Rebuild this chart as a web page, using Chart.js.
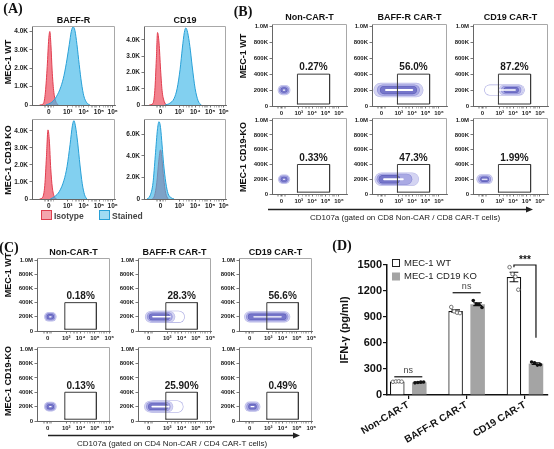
<!DOCTYPE html>
<html><head><meta charset="utf-8">
<script src="https://cdn.jsdelivr.net/npm/chart.js@4.4.1/dist/chart.umd.min.js"></script>
<style>
html,body{margin:0;padding:0;background:#fff;}
#wrap{position:relative;width:554px;height:449px;overflow:hidden;background:#fff;}
#wrap canvas{position:absolute;left:0;top:0;}
.t{position:absolute;white-space:nowrap;font-family:"Liberation Sans",Arial,sans-serif;color:#111;line-height:1;z-index:5;}
svg{position:absolute;left:0;top:0;z-index:4;}
</style></head><body><div id="wrap"></div>
<script>
// ---------------- DATA ----------------
// Panel A histograms (x in display units: 0 -> "0", 1.25 -> 10^3, 2.3 -> 10^4, 3.3 -> 10^5, 4.2 -> 10^6)
const histXTicks = [0, 1.25, 2.3, 3.3, 4.2];
const histXLabels = ['0', '10³', '10⁴', '10⁵', '10⁶'];
const histXMinor = [-0.3, -0.2, -0.1, 0.1, 0.2, 0.3, 1.55, 1.73, 1.85, 1.95, 2.05, 2.15, 2.6, 2.78, 2.9, 3.0, 3.08, 3.15, 3.6, 3.75, 3.85, 3.95, 4.05];
const histYTicks = [0, 1000, 2000, 3000, 4000];
const histYLabels = ['0', '1.0K', '2.0K', '3.0K', '4.0K'];
const histYTicksKo = [0, 2000, 4000, 6000];
const histYLabelsKo = ['0', '2.0K', '4.0K', '6.0K'];
const markersA = ['BAFF-R', 'CD19'];
const cellLinesA = ['MEC-1 WT', 'MEC-1 CD19 KO'];
const legendA = ['Isotype', 'Stained'];

const baffWtIsoX = [-0.6, -0.35, -0.22, -0.1, 0, 0.07, 0.14, 0.22, 0.32, 0.45, 0.62];
const baffWtIsoY = [0, 80, 700, 2100, 3600, 4000, 3300, 1900, 800, 220, 0];
const baffWtStainX = [-0.2, 0.2, 0.5, 0.8, 1.0, 1.2, 1.35, 1.48, 1.6, 1.72, 1.85, 2.0, 2.15, 2.3, 2.5, 2.7];
const baffWtStainY = [0, 150, 450, 1000, 1600, 2500, 3300, 4000, 4250, 4050, 3300, 2200, 1200, 500, 120, 0];
const cd19WtIsoX = [-0.75, -0.5, -0.38, -0.28, -0.2, -0.1, 0, 0.1, 0.25, 0.42];
const cd19WtIsoY = [0, 100, 900, 2800, 4450, 3800, 2200, 900, 200, 0];
const cd19WtStainX = [0.3, 0.6, 0.9, 1.1, 1.3, 1.45, 1.58, 1.68, 1.8, 1.95, 2.1, 2.3, 2.5, 2.7];
const cd19WtStainY = [0, 100, 400, 1000, 2200, 3500, 4450, 4730, 4450, 3600, 2400, 1000, 250, 0];
const baffKoIsoX = [-0.6, -0.4, -0.26, -0.15, -0.05, 0.04, 0.13, 0.23, 0.36, 0.52];
const baffKoIsoY = [0, 100, 800, 2500, 4060, 3400, 1800, 700, 150, 0];
const baffKoStainX = [0.1, 0.4, 0.7, 1.0, 1.2, 1.4, 1.55, 1.65, 1.75, 1.9, 2.05, 2.2, 2.35, 2.5];
const baffKoStainY = [0, 150, 450, 1100, 1900, 3200, 4300, 4600, 4300, 3300, 2000, 900, 250, 0];
const cd19KoIsoX = [-0.55, -0.4, -0.25, -0.12, 0, 0.1, 0.2, 0.35, 0.5];
const cd19KoIsoY = [0, 300, 1500, 3500, 4550, 3600, 2000, 500, 0];
const cd19KoStainX = [-0.9, -0.7, -0.5, -0.35, -0.2, -0.1, 0, 0.1, 0.2, 0.35, 0.5, 0.7, 0.9];
const cd19KoStainY = [0, 300, 1500, 4000, 6500, 7150, 6600, 5000, 3300, 1500, 500, 120, 0];

// Panels B and C: flow plots (x display units: 0, 10^3..10^6 ; y = cell counts)
const flowXTicks = [0, 1.3, 2.3, 3.3, 4.3];
const flowXLabels = ['0', '10³', '10⁴', '10⁵', '10⁶'];
const flowXMinor = [-0.3, -0.2, -0.1, 0.1, 0.2, 0.3, 1.6, 1.78, 1.9, 2.0, 2.1, 2.6, 2.78, 2.9, 3.0, 3.1, 3.6, 3.78, 3.9, 4.0, 4.1];
const flowYTicks = [0, 200000, 400000, 600000, 800000, 1000000];
const flowYLabels = ['0', '200K', '400K', '600K', '800K', '1.0M'];
const conditions = ['Non-CAR-T', 'BAFF-R CAR-T', 'CD19 CAR-T'];
const cellLinesBC = ['MEC-1 WT', 'MEC-1 CD19-KO'];
const cd8WtPct = ['0.27%', '56.0%', '87.2%'];
const cd8KoPct = ['0.33%', '47.3%', '1.99%'];
const cd4WtPct = ['0.18%', '28.3%', '56.6%'];
const cd4KoPct = ['0.13%', '25.90%', '0.49%'];
const gateXB = [1.2, 3.6];
const gateXC = [1.2, 3.4];
const gateY = [25000, 400000];
const axisTitleB = 'CD107a (gated on CD8 Non-CAR / CD8 CAR-T cells)';
const axisTitleC = 'CD107a (gated on CD4 Non-CAR / CD4 CAR-T cells)';
// contour bands: [xStart, xEnd, yCentre, halfHeight, densityLevel]
const cd8WtNonBands  = [[0.1,0.3,200e3,56e3,0],[0.12,0.28,200e3,42e3,1],[0.14,0.26,200e3,27e3,2],[0.15,0.25,200e3,7e3,3]];
const cd8WtBaffBands = [[-0.05,2.6,200e3,84e3,0],[0.1,2.45,200e3,64e3,1],[0.2,2.35,200e3,44e3,2],[0.35,2.3,200e3,13e3,3]];
const cd8WtCd19Bands = [[0.55,2.75,200e3,62e3,4],[1.6,2.7,200e3,58e3,0],[1.7,2.6,200e3,44e3,1],[1.8,2.5,200e3,30e3,2],[1.1,2.45,200e3,9e3,3]];
const cd8KoNonBands  = [[0.1,0.3,200e3,56e3,0],[0.12,0.28,200e3,42e3,1],[0.14,0.26,200e3,27e3,2],[0.15,0.25,200e3,7e3,3]];
const cd8KoBaffBands = [[0.0,2.3,200e3,84e3,0],[0.05,1.9,200e3,66e3,1],[0.1,1.1,200e3,48e3,2],[0.2,1.6,200e3,13e3,3]];
const cd8KoCd19Bands = [[-0.08,0.42,200e3,58e3,0],[-0.02,0.36,200e3,43e3,1],[0.04,0.3,200e3,28e3,2],[0.0,0.34,200e3,8e3,3]];
const cd4WtNonBands  = [[0.08,0.3,200e3,58e3,0],[0.1,0.28,200e3,44e3,1],[0.12,0.26,200e3,30e3,2],[0.14,0.24,200e3,8e3,3]];
const cd4WtBaffBands = [[0.3,2.1,200e3,78e3,4],[0.15,1.45,200e3,75e3,0],[0.2,1.35,200e3,57e3,1],[0.25,1.25,200e3,40e3,2],[0.3,1.5,200e3,11e3,3]];
const cd4WtCd19Bands = [[0.0,2.45,200e3,70e3,0],[0.05,2.4,200e3,53e3,1],[0.1,2.35,200e3,37e3,2],[0.3,2.2,200e3,9e3,3]];
const cd4KoNonBands  = [[0.08,0.3,200e3,58e3,0],[0.1,0.28,200e3,44e3,1],[0.12,0.26,200e3,30e3,2],[0.14,0.24,200e3,8e3,3]];
const cd4KoBaffBands = [[0.3,2.0,200e3,78e3,4],[0.1,1.3,200e3,75e3,0],[0.15,1.2,200e3,57e3,1],[0.2,1.1,200e3,40e3,2],[0.25,1.4,200e3,11e3,3]];
const cd4KoCd19Bands = [[0.0,0.4,200e3,62e3,0],[0.05,0.35,200e3,47e3,1],[0.1,0.3,200e3,31e3,2],[0.1,0.3,200e3,8e3,3]];

// Panel D: IFN-gamma bar chart
const dCats = ['Non-CAR-T', 'BAFF-R CAR-T', 'CD19 CAR-T'];
const dSeries = ['MEC-1 WT', 'MEC-1 CD19 KO'];
const wtMean = [155, 968, 1362];
const wtErr = [4, 14, 55];
const koMean = [146, 1048, 362];
const koErr = [3, 17, 10];
const wtReps = [[152, 156, 158, 154], [1015, 965, 950, 945], [1475, 1395, 1365, 1215]];
const koReps = [[140, 145, 148, 150], [1090, 1050, 1045, 1010], [380, 372, 345, 350]];
const dYTicks = [0, 300, 600, 900, 1200, 1500];
const dYTitle = 'IFN-γ (pg/ml)';
const sigLabels = ['ns', 'ns', '***'];
const sigLevel = [210, 1180, 1500];
const sigLegEnd = [[210, 210], [1180, 1180], [1475, 660]];

// ---------------- HELPERS ----------------
const W = 554, H = 449;
const FONT = '"Liberation Sans", Arial, sans-serif';
Chart.defaults.font.family = FONT;
const wrap = document.getElementById('wrap');
function newCanvas() { const c = document.createElement('canvas'); c.width = W; c.height = H; wrap.appendChild(c); return c; }
function pad(area, yW, xH) { return {left: area[0] - yW, top: area[1], right: W - area[2], bottom: H - area[3] - xH}; }
function zip(xs, ys) { return xs.map((x, i) => ({x, y: ys[i]})); }
function addText(txt, cx, cy, font, o = {}) {
  const d = document.createElement('div');
  d.className = 't'; d.textContent = txt; d.style.font = font;
  if (o.color) d.style.color = o.color;
  d.style.left = cx + 'px'; d.style.top = cy + 'px';
  const tx = o.align === 'left' ? '0' : '-50%';
  d.style.transform = 'translate(' + tx + ',-50%)' + (o.rot ? ' rotate(' + o.rot + 'deg)' : '');
  wrap.appendChild(d);
  return d;
}
const common = {responsive: false, maintainAspectRatio: false, devicePixelRatio: 1, animation: false, events: []};

const boxPlugin = {
  id: 'box',
  afterDatasetsDraw(chart, args, o) {
    const a = chart.chartArea, c = chart.ctx;
    c.save(); c.strokeStyle = o.color || '#a0a0a0'; c.lineWidth = 1;
    c.beginPath();
    c.moveTo(a.left, Math.round(a.top) + 0.5); c.lineTo(Math.round(a.right) - 0.5, Math.round(a.top) + 0.5);
    c.lineTo(Math.round(a.right) - 0.5, a.bottom);
    c.stroke(); c.restore();
  }
};
const gateLabelPlugin = {
  id: 'gateLabel',
  afterDatasetsDraw(chart, args, o) {
    if (!o.text) return;
    const {ctx, scales: {x, y}} = chart;
    ctx.save(); ctx.font = 'bold 10px ' + FONT; ctx.fillStyle = '#1a1a1a';
    ctx.textAlign = 'center'; ctx.textBaseline = 'bottom';
    ctx.fillText(o.text, x.getPixelForValue((o.gx[0] + o.gx[1]) / 2), y.getPixelForValue(o.gy[1]) - 1.5);
    ctx.restore();
  }
};

function axisX(min, max, vals, labels, minor, xH, fs) {
  return {type: 'linear', min, max, offset: false,
    afterBuildTicks: s => { s.ticks = vals.map(v => ({value: v})).concat(minor.map(v => ({value: v, minor: true}))); },
    afterFit: s => { s.height = xH; },
    ticks: {callback: (v, i) => (i < labels.length ? labels[i] : ''), autoSkip: false, maxRotation: 0, minRotation: 0, padding: 1, font: {size: fs, weight: 'bold'}, color: '#222'},
    grid: {display: true, offset: false, drawOnChartArea: false, drawTicks: true, tickLength: 2.5,
      color: '#555', lineWidth: 0.8,
      tickColor: c => (c.tick && c.tick.minor ? '#8a8a8a' : '#555'),
      tickWidth: c => (c.tick && c.tick.minor ? 0.6 : 0.8)},
    border: {display: true, color: '#666', width: 1}};
}
function axisY(max, vals, labels, yW, fs) {
  return {type: 'linear', min: 0, max,
    afterBuildTicks: s => { s.ticks = vals.map(v => ({value: v})); },
    afterFit: s => { s.width = yW; },
    ticks: {callback: (v, i) => labels[i], autoSkip: false, padding: 1.5, font: {size: fs, weight: 'bold'}, color: '#222'},
    grid: {display: true, drawOnChartArea: false, drawTicks: true, tickLength: 2.5, color: '#555', lineWidth: 0.8},
    border: {display: true, color: '#666', width: 1}};
}

// ---------------- PANEL A ----------------
function histChart(area, isoX, isoY, stX, stY, yMax, yT, yL) {
  new Chart(newCanvas(), {
    type: 'line',
    data: {datasets: [
      {data: zip(stX, stY), borderColor: 'rgb(40,160,215)', backgroundColor: 'rgba(60,182,232,0.64)', fill: 'origin', borderWidth: 1, order: 1},
      {data: zip(isoX, isoY), borderColor: 'rgb(225,60,78)', backgroundColor: 'rgba(238,88,104,0.75)', fill: 'origin', borderWidth: 1, order: 2}
    ]},
    options: Object.assign({}, common, {
      layout: {autoPadding: false, padding: pad(area, 24, 12)},
      elements: {point: {radius: 0}, line: {cubicInterpolationMode: 'monotone'}},
      scales: {x: axisX(-1.1, 4.35, histXTicks, histXLabels, histXMinor, 12, 6.5), y: axisY(yMax, yT, yL, 24, 6.5)},
      plugins: {legend: {display: false}, tooltip: {enabled: false}, box: {color: '#a8a8a8'}}
    }),
    plugins: [boxPlugin]
  });
}
const aCols = [[32, 115], [144, 226]];
const aRows = [[26, 105], [119, 199]];
histChart([aCols[0][0], aRows[0][0], aCols[0][1], aRows[0][1]], baffWtIsoX, baffWtIsoY, baffWtStainX, baffWtStainY, 4300, histYTicks, histYLabels);
histChart([aCols[1][0], aRows[0][0], aCols[1][1], aRows[0][1]], cd19WtIsoX, cd19WtIsoY, cd19WtStainX, cd19WtStainY, 4850, histYTicks, histYLabels);
histChart([aCols[0][0], aRows[1][0], aCols[0][1], aRows[1][1]], baffKoIsoX, baffKoIsoY, baffKoStainX, baffKoStainY, 4700, histYTicks, histYLabels);
histChart([aCols[1][0], aRows[1][0], aCols[1][1], aRows[1][1]], cd19KoIsoX, cd19KoIsoY, cd19KoStainX, cd19KoStainY, 7400, histYTicksKo, histYLabelsKo);

// ---------------- PANELS B, C ----------------
const levelFill = ['rgb(212,212,242)', 'rgb(170,170,228)', 'rgb(118,118,202)', '#ffffff', '#ffffff'];
const levelEdge = ['rgb(186,186,232)', 'rgb(140,140,214)', 'rgb(96,96,186)', null, 'rgb(168,168,226)'];
function bandDatasets(bands) {
  const out = [];
  bands.forEach((b, k) => {
    const [x0, x1, yc, hh, lvl] = b;
    const pts = [{x: x0, y: yc}, {x: x1, y: yc}];
    const px = ctx => { const s = ctx.chart.scales.y; return Math.abs(s.getPixelForValue(0) - s.getPixelForValue(hh)); };
    if (levelEdge[lvl]) out.push({data: pts, borderColor: levelEdge[lvl], borderWidth: ctx => 2 * px(ctx) + 1.2, order: -(3 * k)});
    out.push({data: pts, borderColor: levelFill[lvl], borderWidth: ctx => 2 * px(ctx), order: -(3 * k + 1)});
  });
  return out;
}
function flowChart(area, xMin, xMax, bands, gx, pct) {
  const ds = bandDatasets(bands);
  ds.push({data: [{x: gx[0], y: gateY[0]}, {x: gx[0], y: gateY[1]}, {x: gx[1], y: gateY[1]}, {x: gx[1], y: gateY[0]}, {x: gx[0], y: gateY[0]}],
    borderColor: '#3a3a3a', borderWidth: 1, borderJoinStyle: 'miter', borderCapStyle: 'square', order: -1000});
  new Chart(newCanvas(), {
    type: 'line',
    data: {datasets: ds},
    options: Object.assign({}, common, {
      layout: {autoPadding: false, padding: pad(area, 24, 12)},
      elements: {point: {radius: 0}, line: {tension: 0, borderCapStyle: 'round', fill: false}},
      scales: {x: axisX(xMin, xMax, flowXTicks, flowXLabels, flowXMinor, 12, 6), y: axisY(1.03e6, flowYTicks, flowYLabels, 24, 6)},
      plugins: {legend: {display: false}, tooltip: {enabled: false}, box: {color: '#a8a8a8'}, gateLabel: {text: pct, gx, gy: gateY}}
    }),
    plugins: [boxPlugin, gateLabelPlugin]
  });
}
const bCols = [[272, 347], [372, 447], [473, 548]];
const bRows = [[24, 106], [118, 194]];
const cCols = [[37, 110], [138, 211], [239, 312]];
const cRows = [[258, 331], [347, 421]];
const bBands = [[cd8WtNonBands, cd8WtBaffBands, cd8WtCd19Bands], [cd8KoNonBands, cd8KoBaffBands, cd8KoCd19Bands]];
const cBands = [[cd4WtNonBands, cd4WtBaffBands, cd4WtCd19Bands], [cd4KoNonBands, cd4KoBaffBands, cd4KoCd19Bands]];
const bPct = [cd8WtPct, cd8KoPct], cPct = [cd4WtPct, cd4KoPct];
for (let r = 0; r < 2; r++) for (let c = 0; c < 3; c++) {
  flowChart([bCols[c][0], bRows[r][0], bCols[c][1], bRows[r][1]], -0.7, 4.9, bBands[r][c], gateXB, bPct[r][c]);
  flowChart([cCols[c][0], cRows[r][0], cCols[c][1], cRows[r][1]], -0.74, 4.35, cBands[r][c], gateXC, cPct[r][c]);
}

// ---------------- PANEL D ----------------
const dPlugin = {
  id: 'dExtras',
  afterDatasetsDraw(chart) {
    const {ctx, scales: {y}, chartArea: a} = chart;
    const mW = chart.getDatasetMeta(0), mK = chart.getDatasetMeta(1);
    ctx.save();
    [[mW, wtMean, wtErr], [mK, koMean, koErr]].forEach(([m, mean, err]) => {
      m.data.forEach((bar, i) => {
        const yt = y.getPixelForValue(mean[i] + err[i]), yb = y.getPixelForValue(mean[i] - err[i]);
        const cw = bar.width * 0.3;
        ctx.strokeStyle = '#111'; ctx.lineWidth = 1.1;
        ctx.beginPath(); ctx.moveTo(bar.x, yt); ctx.lineTo(bar.x, yb);
        ctx.moveTo(bar.x - cw, yt); ctx.lineTo(bar.x + cw, yt);
        ctx.moveTo(bar.x - cw, yb); ctx.lineTo(bar.x + cw, yb); ctx.stroke();
      });
    });
    [[mW, wtReps, true], [mK, koReps, false]].forEach(([m, reps, hollow]) => {
      m.data.forEach((bar, i) => {
        reps[i].forEach((v, k) => {
          const px = bar.x + (k - 1.5) * bar.width * 0.2, py = y.getPixelForValue(v);
          ctx.beginPath(); ctx.arc(px, py, 1.8, 0, Math.PI * 2);
          if (hollow) { ctx.fillStyle = '#fff'; ctx.fill(); ctx.strokeStyle = '#666'; ctx.lineWidth = 0.9; ctx.stroke(); }
          else { ctx.fillStyle = '#111'; ctx.fill(); }
        });
      });
    });
    dCats.forEach((c, i) => {
      const xw = mW.data[i].x, xk = mK.data[i].x;
      const ys = y.getPixelForValue(sigLevel[i]);
      const bracket = sigLegEnd[i][0] !== sigLevel[i] || sigLegEnd[i][1] !== sigLevel[i];
      ctx.strokeStyle = '#111'; ctx.lineWidth = 1.2;
      ctx.beginPath();
      if (bracket) {
        ctx.moveTo(xw, y.getPixelForValue(sigLegEnd[i][0])); ctx.lineTo(xw, ys); ctx.lineTo(xk, ys); ctx.lineTo(xk, y.getPixelForValue(sigLegEnd[i][1]));
      } else { ctx.moveTo(xw - 3, ys); ctx.lineTo(xk + 3, ys); }
      ctx.stroke();
      ctx.fillStyle = bracket ? '#111' : '#444';
      ctx.font = (bracket ? 'bold 10px ' : '9px ') + FONT;
      ctx.textAlign = 'center'; ctx.textBaseline = 'bottom';
      ctx.fillText(sigLabels[i], (xw + xk) / 2, ys - (bracket ? 0 : 2));
    });
    chart.data.datasets.forEach((ds, k) => {
      const bx = a.left + 5, cy = a.top - 2 + k * 13.5;
      ctx.fillStyle = ds.backgroundColor; ctx.fillRect(bx, cy - 4, 8, 8);
      if (ds.borderWidth) { ctx.strokeStyle = '#222'; ctx.lineWidth = 1; ctx.strokeRect(bx + 0.5, cy - 3.5, 7, 7); }
      ctx.fillStyle = '#222'; ctx.font = '9.5px ' + FONT; ctx.textAlign = 'left'; ctx.textBaseline = 'middle';
      ctx.fillText(ds.label, bx + 12, cy);
    });
    ctx.restore();
  }
};
const dArea = [387, 265, 548, 395];
new Chart(newCanvas(), {
  type: 'bar',
  data: {datasets: [
    {label: dSeries[0], data: dCats.map((c, i) => ({x: i, y: wtMean[i]})), backgroundColor: '#ffffff', borderColor: '#111', borderWidth: 1.2},
    {label: dSeries[1], data: dCats.map((c, i) => ({x: i, y: koMean[i]})), backgroundColor: 'rgb(164,164,164)', borderColor: 'rgb(164,164,164)', borderWidth: 0}
  ]},
  options: Object.assign({}, common, {
    layout: {autoPadding: false, padding: pad(dArea, 49, 52)},
    datasets: {bar: {categoryPercentage: 0.755, barPercentage: 0.66}},
    scales: {
      x: {type: 'linear', min: -0.365, max: 2.395, offset: false,
        afterBuildTicks: s => { s.ticks = dCats.map((c, i) => ({value: i})); },
        afterFit: s => { s.height = 52; },
        ticks: {callback: (v, i) => dCats[i], autoSkip: false, minRotation: 31, maxRotation: 31, padding: 0, font: {size: 10, weight: 'bold'}, color: '#111'},
        grid: {display: true, offset: false, drawOnChartArea: false, drawTicks: true, tickLength: 4, color: '#111', lineWidth: 1.2},
        border: {display: true, color: '#111', width: 1.5}},
      y: {type: 'linear', min: 0, max: 1500,
        afterBuildTicks: s => { s.ticks = dYTicks.map(v => ({value: v})); },
        afterFit: s => { s.width = 49; },
        ticks: {callback: v => String(v), padding: 1, font: {size: 11, weight: 'bold'}, color: '#111'},
        grid: {display: true, drawOnChartArea: false, drawTicks: true, tickLength: 4, color: '#111', lineWidth: 1.2},
        border: {display: true, color: '#111', width: 1.5},
        title: {display: true, text: dYTitle, font: {size: 11, weight: 'bold'}, color: '#111', padding: 0}}
    },
    plugins: {legend: {display: false}, tooltip: {enabled: false}}
  }),
  plugins: [dPlugin]
});

// ---------------- TEXT & ARROWS ----------------
const serif = 'bold 14px "Liberation Serif", "DejaVu Serif", serif';
addText('(A)', 13, 9, serif);
addText('(B)', 243, 12, serif);
addText('(C)', 9, 248, serif);
addText('(D)', 342, 246, serif);
const ttl = 'bold 9px ' + FONT, rowF = 'bold 9px ' + FONT;
markersA.forEach((m, i) => addText(m, (aCols[i][0] + aCols[i][1]) / 2, 20, ttl));
conditions.forEach((m, i) => { addText(m, (bCols[i][0] + bCols[i][1]) / 2, 17, ttl); addText(m, (cCols[i][0] + cCols[i][1]) / 2, 252, ttl); });
addText(cellLinesA[0], 8, 62, rowF, {rot: -90});
addText(cellLinesA[1], 8, 160, rowF, {rot: -90});
addText(cellLinesBC[0], 243, 56, rowF, {rot: -90});
addText(cellLinesBC[1], 243, 157, rowF, {rot: -90});
addText(cellLinesBC[0], 8, 275, rowF, {rot: -90});
addText(cellLinesBC[1], 8, 381, rowF, {rot: -90});
// legend A
function legBox(x, y, bg, bd) { const d = document.createElement('div'); d.style.cssText = 'position:absolute;z-index:5;left:' + x + 'px;top:' + y + 'px;width:9px;height:8px;background:' + bg + ';border:1px solid ' + bd; wrap.appendChild(d); }
legBox(41, 210, 'rgba(240,135,145,0.75)', 'rgb(222,62,78)');
addText(legendA[0], 54, 215.5, 'bold 8.5px ' + FONT, {align: 'left', color: '#444'});
legBox(99, 210, 'rgba(150,215,242,0.9)', 'rgb(40,160,215)');
addText(legendA[1], 112, 215.5, 'bold 8.5px ' + FONT, {align: 'left', color: '#444'});
addText(axisTitleB, 405, 217, '8px ' + FONT, {color: '#222'});
addText(axisTitleC, 172, 443, '8px ' + FONT, {color: '#222'});
const svgNS = 'http://www.w3.org/2000/svg';
const svg = document.createElementNS(svgNS, 'svg'); svg.setAttribute('width', W); svg.setAttribute('height', H); wrap.appendChild(svg);
function arrow(x1, x2, y) {
  const l = document.createElementNS(svgNS, 'line');
  l.setAttribute('x1', x1); l.setAttribute('x2', x2 - 5); l.setAttribute('y1', y); l.setAttribute('y2', y);
  l.setAttribute('stroke', '#222'); l.setAttribute('stroke-width', '1.3'); svg.appendChild(l);
  const p = document.createElementNS(svgNS, 'polygon');
  p.setAttribute('points', x2 + ',' + y + ' ' + (x2 - 7) + ',' + (y - 3) + ' ' + (x2 - 7) + ',' + (y + 3)); p.setAttribute('fill', '#222'); svg.appendChild(p);
}
arrow(268, 533, 209.5);
arrow(48, 300, 435.5);
</script></body></html>
